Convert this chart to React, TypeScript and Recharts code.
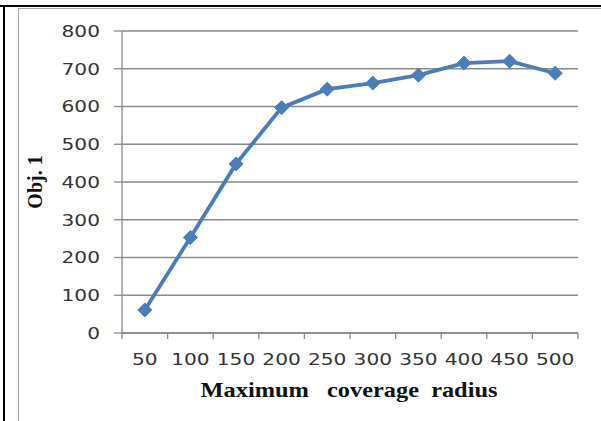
import React from 'react';
import { LineChart, Line, XAxis, YAxis, CartesianGrid } from 'recharts';

const radius = ['50', '100', '150', '200', '250', '300', '350', '400', '450', '500'];
const obj1 = [61, 253, 448, 597, 646, 662, 683, 715, 720, 688];
const yTicks = [0, 100, 200, 300, 400, 500, 600, 700, 800];
const edgeTicks = [0, 1, 2, 3, 4, 5, 6, 7, 8, 9, 10];
const xTitle = 'Maximum   coverage  radius';
const yTitle = 'Obj. 1';

const data = radius.map((r, i) => ({ radius: r, pos: i + 0.5, obj1: obj1[i] }));

const GRID = '#8a8a8a';
const BLUE = '#4a7ebb';
const TICK_COLOR = '#353535';

const YTick = (props: any) => {
  const { x, y, payload } = props;
  return (
    <text
      transform={`translate(${x},${y}) scale(1.26,1)`}
      textAnchor="end"
      dy="0.36em"
      fontFamily="DejaVu Sans"
      fontSize={16}
      fill={TICK_COLOR}
    >
      {payload.value}
    </text>
  );
};

const CatTick = (props: any) => {
  const { x, y, payload } = props;
  return (
    <text
      transform={`translate(${x},${y + 5}) scale(1.26,1)`}
      textAnchor="middle"
      dy="0.71em"
      fontFamily="DejaVu Sans"
      fontSize={16}
      fill={TICK_COLOR}
    >
      {payload.value}
    </text>
  );
};

const NoTick = () => <g />;

const XTitle = (props: any) => {
  const vb = props.viewBox || {};
  const cx = vb.x + vb.width / 2 - 1;
  const cy = vb.y + 56;
  return (
    <text
      transform={`translate(${cx},${cy}) scale(1.16,1)`}
      textAnchor="middle"
      fontFamily="Liberation Serif"
      fontWeight="bold"
      fontSize={21}
      fill="#111"
      style={{ whiteSpace: 'pre' }}
    >
      {xTitle}
    </text>
  );
};

const YTitle = (props: any) => {
  const vb = props.viewBox || {};
  const cx = 42;
  const cy = vb.y + vb.height / 2;
  return (
    <text
      transform={`translate(${cx},${cy}) rotate(-90)`}
      textAnchor="middle"
      fontFamily="Liberation Serif"
      fontWeight="bold"
      fontSize={20}
      fill="#111"
    >
      {yTitle}
    </text>
  );
};

const Diamond = (props: any) => {
  const { cx, cy } = props;
  if (cx == null || cy == null) return <g />;
  const r = 7;
  return (
    <polygon
      points={`${cx},${cy - r} ${cx + r},${cy} ${cx},${cy + r} ${cx - r},${cy}`}
      fill={BLUE}
      stroke={BLUE}
      strokeWidth={1}
    />
  );
};

export default function App() {
  return (
    <div style={{ position: 'absolute', left: 0, top: 0, width: 601, height: 421, background: '#fff', overflow: 'hidden' }}>
      <div style={{ position: 'absolute', left: 0, top: 5, width: 601, height: 2, background: '#000' }} />
      <div style={{ position: 'absolute', left: 3, top: 5, width: 2, height: 416, background: '#000' }} />
      <div
        style={{
          position: 'absolute',
          left: 18,
          top: 8,
          width: 700,
          height: 500,
          border: '1.5px solid #a8a8a8',
          boxSizing: 'border-box',
        }}
      />
      <div style={{ position: 'absolute', left: 0, top: 0 }}>
        <LineChart width={601} height={421} data={data} margin={{ top: 31, right: 23, left: 0, bottom: 0 }}>
          <CartesianGrid horizontal vertical={false} stroke={GRID} strokeWidth={1.3} xAxisId="b" />
          <XAxis
            xAxisId="b"
            dataKey="radius"
            type="category"
            scale="band"
            interval={0}
            height={80}
            axisLine={false}
            tickLine={false}
            tick={CatTick}
            label={{ content: XTitle }}
          />
          <XAxis
            xAxisId="a"
            type="number"
            dataKey="pos"
            domain={[0, radius.length]}
            ticks={edgeTicks}
            interval={0}
            allowDataOverflow
            height={8}
            tick={NoTick}
            tickSize={6}
            tickLine={{ stroke: GRID, strokeWidth: 1.3 }}
            axisLine={{ stroke: GRID, strokeWidth: 1.3 }}
          />
          <YAxis
            type="number"
            domain={[0, 800]}
            ticks={yTicks}
            interval={0}
            width={122}
            tickSize={8}
            tickMargin={14}
            tick={YTick}
            tickLine={{ stroke: GRID, strokeWidth: 1.3 }}
            axisLine={{ stroke: GRID, strokeWidth: 1.3 }}
            label={{ content: YTitle }}
          />
          <Line
            xAxisId="b"
            type="linear"
            dataKey="obj1"
            stroke={BLUE}
            strokeWidth={3.8}
            dot={Diamond}
            activeDot={false}
            isAnimationActive={false}
          />
        </LineChart>
      </div>
    </div>
  );
}
